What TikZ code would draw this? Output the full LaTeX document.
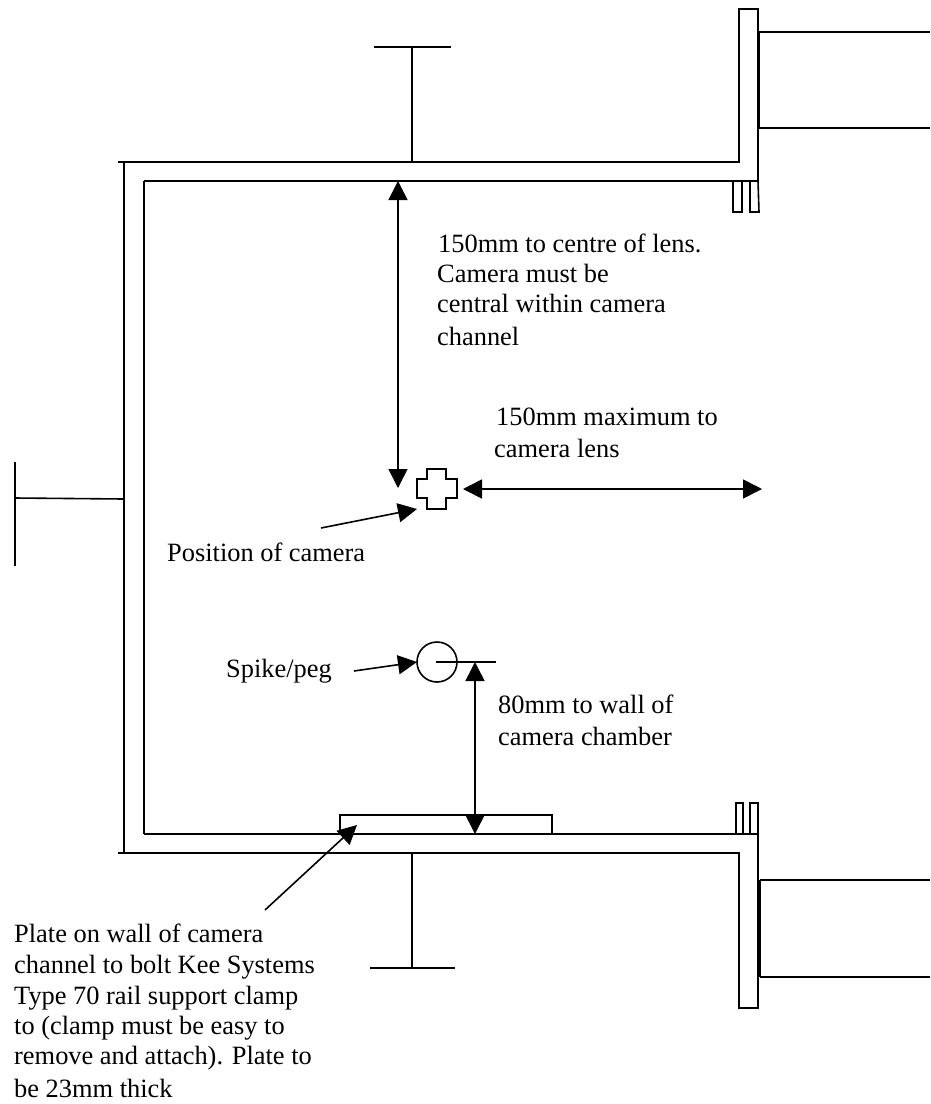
\documentclass[tikz,border=0pt]{standalone}
\usepackage{fontspec}
\setmainfont{Liberation Serif}
\usetikzlibrary{arrows.meta}
\tikzset{
	wall/.style={line width=1.6pt, color=black},
	pointer/.style={line width=1.6pt, color=black, -{Triangle[length=19pt, width=19pt]}},
	bothway/.style={line width=1.6pt, color=black, {Triangle[length=19pt, width=19pt]}-{Triangle[length=19pt, width=19pt]}},
	txt/.style={anchor=base west, inner sep=0pt, font=\fontsize{26.4}{30}\selectfont}
}
\begin{document}
\begin{tikzpicture}[x=1pt, y=-1pt]
			%%%%% START %%%%%
			\useasboundingbox (0, 0) rectangle (930, 1104);
			
			% top of the channel
			\draw[wall] (118, 162) -- (739, 162) -- (739, 9) -- (758, 9) -- (758, 181) -- (144, 181);
			\draw[wall] (733, 181) -- (733, 212) -- (742, 212) -- (742, 181);
			\draw[wall] (750, 181) -- (750, 212) -- (759, 212) -- (758, 181);
			\draw[wall] (930, 32) -- (759, 32);
			\draw[wall] (930, 128) -- (759, 128);
			\draw[wall, line width=2.4pt] (759, 32) -- (759, 128);
			\draw[wall] (374, 47) -- (451, 47);
			\draw[wall] (412, 47) -- (412, 162);
			
			% left side
			\draw[wall] (124, 162) -- (124, 854);
			\draw[wall] (144, 181) -- (144, 834);
			\draw[wall] (124, 499) -- (15, 498);
			\draw[wall] (15, 462) -- (15, 566);
			
			% bottom of the channel
			\draw[wall] (144, 834) -- (759, 834);
			\draw[wall] (118, 853) -- (739, 853) -- (739, 1008) -- (758, 1008) -- (758, 829);
			\draw[wall] (736, 834) -- (736, 803) -- (743, 803) -- (743, 834);
			\draw[wall] (750, 834) -- (750, 803) -- (758, 803) -- (758, 834);
			\draw[wall] (930, 880) -- (760, 880);
			\draw[wall] (930, 977) -- (760, 977);
			\draw[wall, line width=2.6pt] (760, 880) -- (760, 977);
			\draw[wall] (370, 968) -- (455, 968);
			\draw[wall] (412, 853) -- (412, 968);
			\draw[wall] (340, 834) -- (340, 815) -- (552, 815) -- (552, 834);
			
			% camera and peg
			\draw[wall] (427, 469) -- (446, 469) -- (446, 479) -- (457, 479) -- (457, 498) -- (446, 498) -- (446, 509) -- (427, 509) -- (427, 498) -- (417, 498) -- (417, 479) -- (427, 479) -- cycle;
			\draw[wall] (437, 662) circle (20);
			\draw[wall] (436, 662) -- (496, 662);
			
			% labels
			\node[txt] (lensa) at (438, 252) {150mm to centre of lens.};
			\node[txt] (lensb) at (437, 282) {Camera must be};
			\node[txt] (lensc) at (437, 312) {central within camera};
			\node[txt] (lensd) at (437, 345) {channel};
			\node[txt] (maxa) at (496, 425) {150mm maximum to};
			\node[txt] (maxb) at (494, 457) {camera lens};
			\node[txt] (position) at (167, 561) {Position of camera};
			\node[txt] (spike) at (226, 677) {Spike/peg};
			\node[txt] (walla) at (498, 713) {80mm to wall of};
			\node[txt] (wallb) at (498, 745) {camera chamber};
			\node[txt] (platea) at (14, 942) {Plate on wall of camera};
			\node[txt] (plateb) at (14, 973) {channel to bolt Kee Systems};
			\node[txt] (platec) at (14, 1004) {Type 70 rail support clamp};
			\node[txt] (plated) at (14, 1034) {to (clamp must be easy to};
			\node[txt] (platee) at (14, 1064) {remove and attach).  Plate to};
			\node[txt] (platef) at (14, 1097) {be 23mm thick};
			
			% arrows
			\coordinate (lensup) at (398, 181);
			\coordinate (lensdown) at (398, 488);
			\coordinate (maxleft) at (463, 489);
			\coordinate (maxright) at (762, 489);
			\coordinate (wallup) at (475, 662);
			\coordinate (walldown) at (475, 834);
			\coordinate (camtail) at (321, 528);
			\coordinate (camtip) at (417, 509);
			\coordinate (pegtail) at (354, 671);
			\coordinate (pegtip) at (417, 662);
			\coordinate (platetail) at (265, 910);
			\coordinate (platetip) at (357, 825);
			\draw[bothway] (lensup) -- (lensdown);
			\draw[bothway] (maxleft) -- (maxright);
			\draw[bothway] (wallup) -- (walldown);
			\draw[pointer] (camtail) -- (camtip);
			\draw[pointer] (pegtail) -- (pegtip);
			\draw[pointer] (platetail) -- (platetip);
			%%%%% END %%%%%
		\end{tikzpicture}
\end{document}
